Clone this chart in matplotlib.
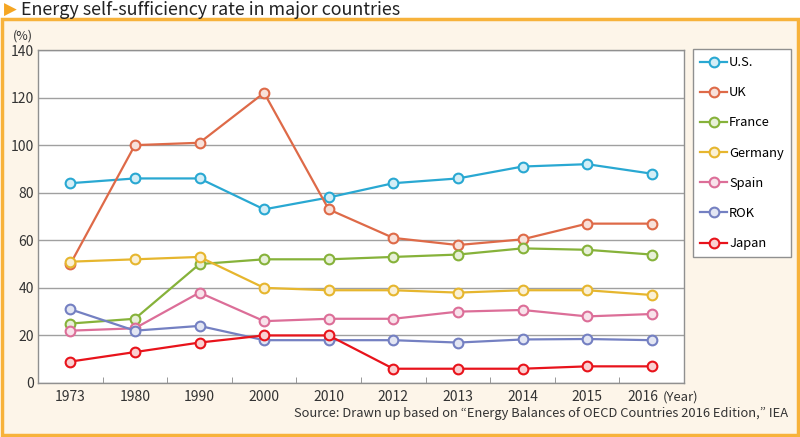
import matplotlib.pyplot as plt
from matplotlib.patches import Rectangle
from matplotlib.colors import to_rgb
from matplotlib.transforms import ScaledTranslation
import numpy as np

plt.rcParams['font.family'] = ['Noto Sans CJK JP', 'DejaVu Sans']

# data
years = ['1973', '1980', '1990', '2000', '2010', '2012', '2013', '2014', '2015', '2016']
us = [84, 86, 86, 73, 78, 84, 86, 91, 92, 88]
uk = [50, 100, 101, 122, 73, 61, 58, 60.4, 67, 67]
france = [25, 27, 50, 52, 52, 53, 54, 56.6, 56, 54]
germany = [51, 52, 53, 40, 39, 39, 38, 39, 39, 37]
spain = [22, 23, 38, 26, 27, 27, 30, 30.7, 28, 29]
rok = [31, 22, 24, 18, 18, 18, 17, 18.3, 18.5, 18]
japan = [9, 13, 17, 20, 20, 6, 6, 6, 7, 7]

series = [
    ('U.S.', us, '#29a8d2'),
    ('UK', uk, '#de6a48'),
    ('France', france, '#86b23a'),
    ('Germany', germany, '#e6b62e'),
    ('Spain', spain, '#dc6e98'),
    ('ROK', rok, '#7480c2'),
    ('Japan', japan, '#e8131b'),
]

fig = plt.figure(figsize=(8, 4.37), dpi=100)
W, H = 800, 437

# panel background + orange border
panel = Rectangle((2 / W, 2 / H), 796 / W, (H - 21) / H, transform=fig.transFigure,
                  facecolor='#fdf5e9', edgecolor='#f7b23b', linewidth=2.5, zorder=-5)
fig.patches.append(panel)

# title
fig.text(4 / W, 1 - 10 / H, '\u25B6', color='#f5a623', fontsize=12, va='center', ha='left',
         family=['DejaVu Sans'])
fig.text(21 / W, 1 - 10 / H, 'Energy self-sufficiency rate in major countries', fontsize=12.9,
         va='center', ha='left', color='#222222')

ax = fig.add_axes([38 / W, 1 - 383 / H, (684 - 38) / W, (383 - 50) / H])
ax.set_zorder(2)
ax.set_facecolor('white')
x = np.arange(len(years))
for name, vals, col in series:
    r, g, b = to_rgb(col)
    face = (r + (1 - r) * 0.8, g + (1 - g) * 0.8, b + (1 - b) * 0.8)
    ax.plot(x, vals, color=col, lw=1.6, marker='o', ms=7, mfc=face, mec=col, mew=1.5,
            label=name, zorder=3)

ax.set_xlim(-0.5, len(years) - 0.5)
ax.set_ylim(0, 140)
ax.set_yticks(range(0, 141, 20))
ax.set_xticks(x)
# last year label is shifted left to leave room for "(Year)"
ax.set_xticklabels(years[:-1] + [''])
ax.text(x[-1], 0, years[-1], ha='center', va='top', fontsize=10, color='#333333',
        transform=ax.get_xaxis_transform() + ScaledTranslation(-9 / 100, -5 / 72, fig.dpi_scale_trans))
ax.set_xticks(x[:-1] + 0.5, minor=True)
ax.tick_params(axis='x', which='major', length=0, pad=5, labelsize=10, labelcolor='#333333')
ax.tick_params(axis='x', which='minor', length=4, direction='in', color='#888888')
ax.tick_params(axis='y', length=0, pad=3, labelsize=10, labelcolor='#333333')
ax.grid(axis='y', color='#a0a0a0', lw=1.0, zorder=1)
for s in ax.spines.values():
    s.set_color('#909090')
    s.set_linewidth(1.0)

fig.text(13 / W, 1 - 36 / H, '(%)', fontsize=9, color='#333333', va='center', ha='left')
fig.text(663 / W, 1 - 397 / H, '(Year)', fontsize=9.5, color='#333333', va='center', ha='left')
fig.text(788 / W, 1 - 414 / H,
         'Source: Drawn up based on \u201cEnergy Balances of OECD Countries 2016 Edition,\u201d IEA',
         fontsize=9.3, color='#333333', va='center', ha='right')

leg = ax.legend(loc='upper left', bbox_to_anchor=(693 / W, 1 - 49 / H),
                bbox_transform=fig.transFigure, frameon=True, fancybox=False,
                edgecolor='#909090', facecolor='white', framealpha=1, fontsize=9.3,
                handlelength=2.1, handletextpad=0.15, labelspacing=1.33, borderpad=0.55,
                borderaxespad=0)
leg.get_frame().set_linewidth(1.0)

fig.savefig('out.png', dpi=100)
